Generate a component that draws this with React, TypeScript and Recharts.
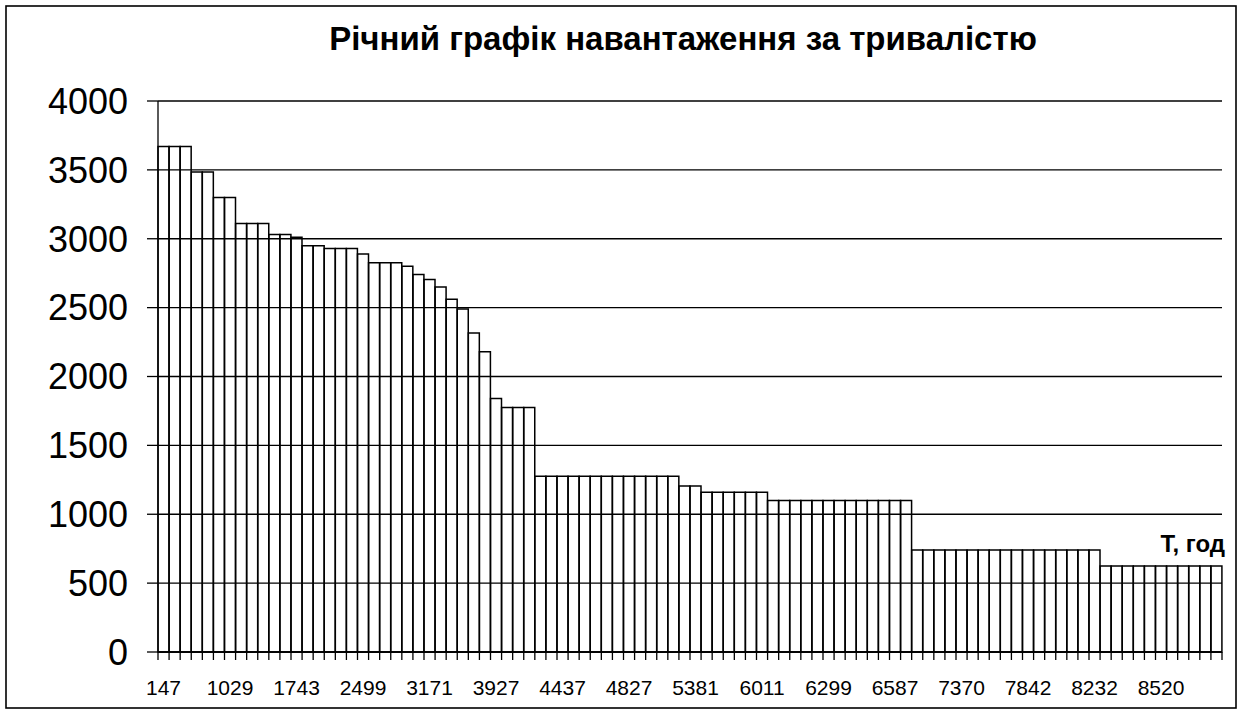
import React from "react";
import { BarChart, Bar, XAxis, YAxis, CartesianGrid } from "recharts";

// Cumulative duration, hours (only every 6th label is shown in the chart)
const hours: number[] = [
  147, 294, 441, 588, 735, 882,
  1029, 1148, 1267, 1386, 1505, 1624,
  1743, 1869, 1995, 2121, 2247, 2373,
  2499, 2611, 2723, 2835, 2947, 3059,
  3171, 3297, 3423, 3549, 3675, 3801,
  3927, 4012, 4097, 4182, 4267, 4352,
  4437, 4502, 4567, 4632, 4697, 4762,
  4827, 4919, 5012, 5104, 5196, 5289,
  5381, 5486, 5591, 5696, 5801, 5906,
  6011, 6059, 6107, 6155, 6203, 6251,
  6299, 6347, 6395, 6443, 6491, 6539,
  6587, 6718, 6848, 6979, 7109, 7240,
  7370, 7449, 7527, 7606, 7685, 7763,
  7842, 7907, 7972, 8037, 8102, 8167,
  8232, 8280, 8328, 8376, 8424, 8472,
  8520, 8568, 8616, 8664, 8712, 8760,
];

// Load
const load: number[] = [
  3670, 3670, 3670, 3485, 3485, 3300,
  3300, 3110, 3110, 3110, 3030, 3030,
  3010, 2950, 2950, 2930, 2930, 2930,
  2890, 2825, 2825, 2825, 2800, 2740,
  2705, 2650, 2560, 2490, 2315, 2180,
  1840, 1775, 1775, 1775, 1275, 1275,
  1275, 1275, 1275, 1275, 1275, 1275,
  1275, 1275, 1275, 1275, 1275, 1205,
  1205, 1160, 1160, 1160, 1160, 1160,
  1160, 1100, 1100, 1100, 1100, 1100,
  1100, 1100, 1100, 1100, 1100, 1100,
  1100, 1100, 740, 740, 740, 740,
  740, 740, 740, 740, 740, 740,
  740, 740, 740, 740, 740, 740,
  740, 625, 625, 625, 625, 625,
  625, 625, 625, 625, 625, 625,
];

const yTicks: number[] = [0, 500, 1000, 1500, 2000, 2500, 3000, 3500, 4000];

const title = "Річний графік навантаження за тривалістю";
const xTitle = "T, год";

const data = hours.map((t, i) => ({ t: String(t), p: load[i] }));

const FONT = "'Liberation Sans', Arial, sans-serif";
const W = 1245;
const H = 711;
const LABEL_EVERY = 6;
const TICK_SIZE = 8;
const TICK_MARGIN = 20;

const XTick = (props: any) => {
  const { x, y, payload, index } = props;
  const n = data.length;
  const plotW = W - 158 - 23;
  const half = payload && typeof payload.offset === "number" && payload.offset > 0 ? payload.offset : plotW / n / 2;
  const axisY = y - TICK_SIZE - TICK_MARGIN;
  const i = typeof index === "number" ? index : 0;
  return (
    <g>
      <line x1={x - half} x2={x - half} y1={axisY} y2={axisY + TICK_SIZE} stroke="#000" strokeWidth={1.3} />
      {i === n - 1 ? (
        <line x1={x + half} x2={x + half} y1={axisY} y2={axisY + TICK_SIZE} stroke="#000" strokeWidth={1.3} />
      ) : null}
      {i % LABEL_EVERY === 0 ? (
        <text x={x} y={y} dy="0.71em" textAnchor="middle" fontSize={21} fontFamily={FONT} fill="#000">
          {payload.value}
        </text>
      ) : null}
    </g>
  );
};

export default function App() {
  return (
    <div style={{ position: "absolute", left: 0, top: 0, width: W, height: H, background: "#fff" }}>
      <BarChart
        width={W}
        height={H}
        data={data}
        margin={{ top: 101, right: 23, bottom: 19, left: 0 }}
        barCategoryGap={0}
        barGap={0}
      >
        <CartesianGrid vertical={false} stroke="#000" strokeWidth={1.3} />
        <XAxis
          dataKey="t"
          type="category"
          interval={0}
          height={40}
          tickSize={TICK_SIZE}
          tickMargin={TICK_MARGIN}
          tickLine={false}
          axisLine={{ stroke: "#000", strokeWidth: 1.3 }}
          tick={<XTick />}
        />
        <YAxis
          width={158}
          domain={[0, 4000]}
          ticks={yTicks}
          interval={0}
          tickSize={11}
          tickMargin={19}
          tickLine={{ stroke: "#000", strokeWidth: 1.3 }}
          axisLine={{ stroke: "#000", strokeWidth: 1.3 }}
          tick={{ fontSize: 36, fill: "#000", fontFamily: FONT }}
        />
        <Bar dataKey="p" fill="none" stroke="#000" strokeWidth={1.5} isAnimationActive={false} />
      </BarChart>
      <svg
        width={W}
        height={H}
        style={{ position: "absolute", left: 0, top: 0, pointerEvents: "none" }}
      >
        <rect x={6} y={6} width={1230} height={702} fill="none" stroke="#000" strokeWidth={1.6} />
        <text x={683} y={50} textAnchor="middle" fontSize={33} fontWeight="bold" fontFamily={FONT} fill="#000">
          {title}
        </text>
        <text x={1225} y={552} textAnchor="end" fontSize={24} fontWeight="bold" fontFamily={FONT} fill="#000">
          {xTitle}
        </text>
      </svg>
    </div>
  );
}
